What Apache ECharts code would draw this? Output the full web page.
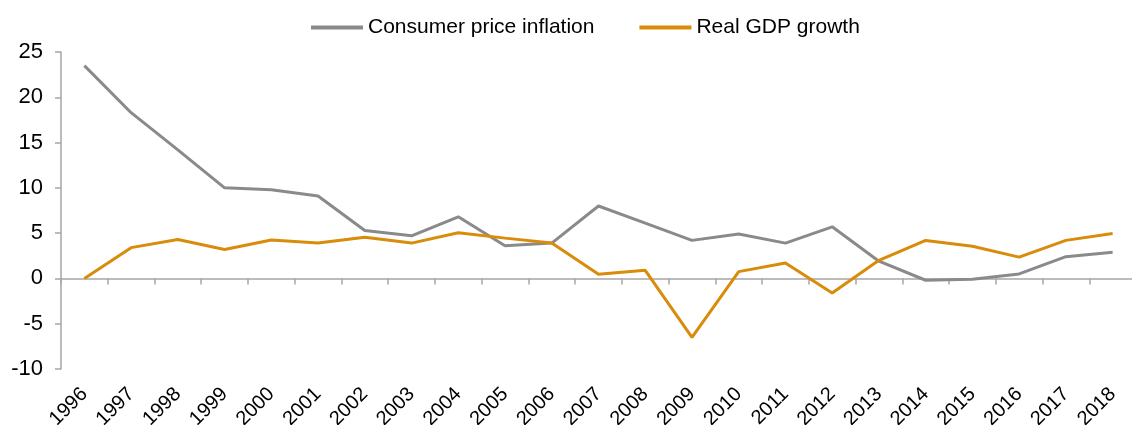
<!DOCTYPE html>
<html>
<head>
<meta charset="utf-8">
<script src="https://cdn.jsdelivr.net/npm/echarts@6/dist/echarts.min.js"></script>
<style>
html,body{margin:0;padding:0;background:#fff;}
#chart{width:1132px;height:425px;}
</style>
</head>
<body>
<div id="chart"></div>
<script>
const years = ['1996','1997','1998','1999','2000','2001','2002','2003','2004','2005','2006','2007','2008','2009','2010','2011','2012','2013','2014','2015','2016','2017','2018'];
const cpiInflation = [23.5,18.3,14.2,10.0,9.8,9.1,5.3,4.7,6.8,3.6,3.9,8.0,6.1,4.2,4.9,3.9,5.7,1.9,-0.2,-0.1,0.5,2.4,2.9];
const gdpGrowth = [0.0,3.4,4.3,3.2,4.25,3.9,4.55,3.9,5.05,4.45,3.9,0.45,0.9,-6.5,0.75,1.7,-1.6,2.0,4.2,3.55,2.35,4.2,4.95];
const yTicks = {min:-10, max:25, interval:5};
const seriesNames = ['Consumer price inflation','Real GDP growth'];

const font = 'Liberation Sans, Arial, sans-serif';
const axisGray = '#a6a6a6';
const chart = echarts.init(document.getElementById('chart'), null, {renderer:'canvas'});
chart.setOption({
  animation:false,
  legend:{
    top:17, left:311, padding:0,
    itemWidth:52, itemHeight:4, itemGap:45,
    icon:'rect',
    textStyle:{fontFamily:font, fontSize:21, color:'#000', padding:[0,0,0,0]},
    data:seriesNames
  },
  grid:{left:61, top:52, width:1075, height:317, containLabel:false, outerBoundsMode:'none'},
  xAxis:[{
    type:'category', data:years, boundaryGap:true, position:'bottom',
    axisLine:{show:false, onZero:false}, axisTick:{show:false},
    axisLabel:{rotate:45, margin:22, fontFamily:font, fontSize:20, color:'#000', interval:0}
  },{
    type:'category', data:years, boundaryGap:true, position:'bottom',
    axisLine:{show:true, onZero:true, lineStyle:{color:axisGray, width:1.5}},
    axisTick:{show:true, length:6, inside:false, alignWithLabel:false, interval:0, lineStyle:{color:axisGray, width:1.5}},
    axisLabel:{show:false}
  }],
  yAxis:{
    type:'value', min:yTicks.min, max:yTicks.max, interval:yTicks.interval,
    axisLine:{show:true, lineStyle:{color:axisGray, width:1.5}},
    axisTick:{show:true, length:6, lineStyle:{color:axisGray, width:1.5}},
    splitLine:{show:false},
    axisLabel:{margin:18, fontFamily:font, fontSize:22, color:'#000'}
  },
  series:[{
    name:seriesNames[0], type:'line', data:cpiInflation, xAxisIndex:0,
    symbol:'none', lineStyle:{color:'#8a8a8c', width:3}, itemStyle:{color:'#8a8a8c'}
  },{
    name:seriesNames[1], type:'line', data:gdpGrowth, xAxisIndex:0,
    symbol:'none', lineStyle:{color:'#d98b0a', width:3}, itemStyle:{color:'#d98b0a'}
  }]
});
</script>
</body>
</html>
